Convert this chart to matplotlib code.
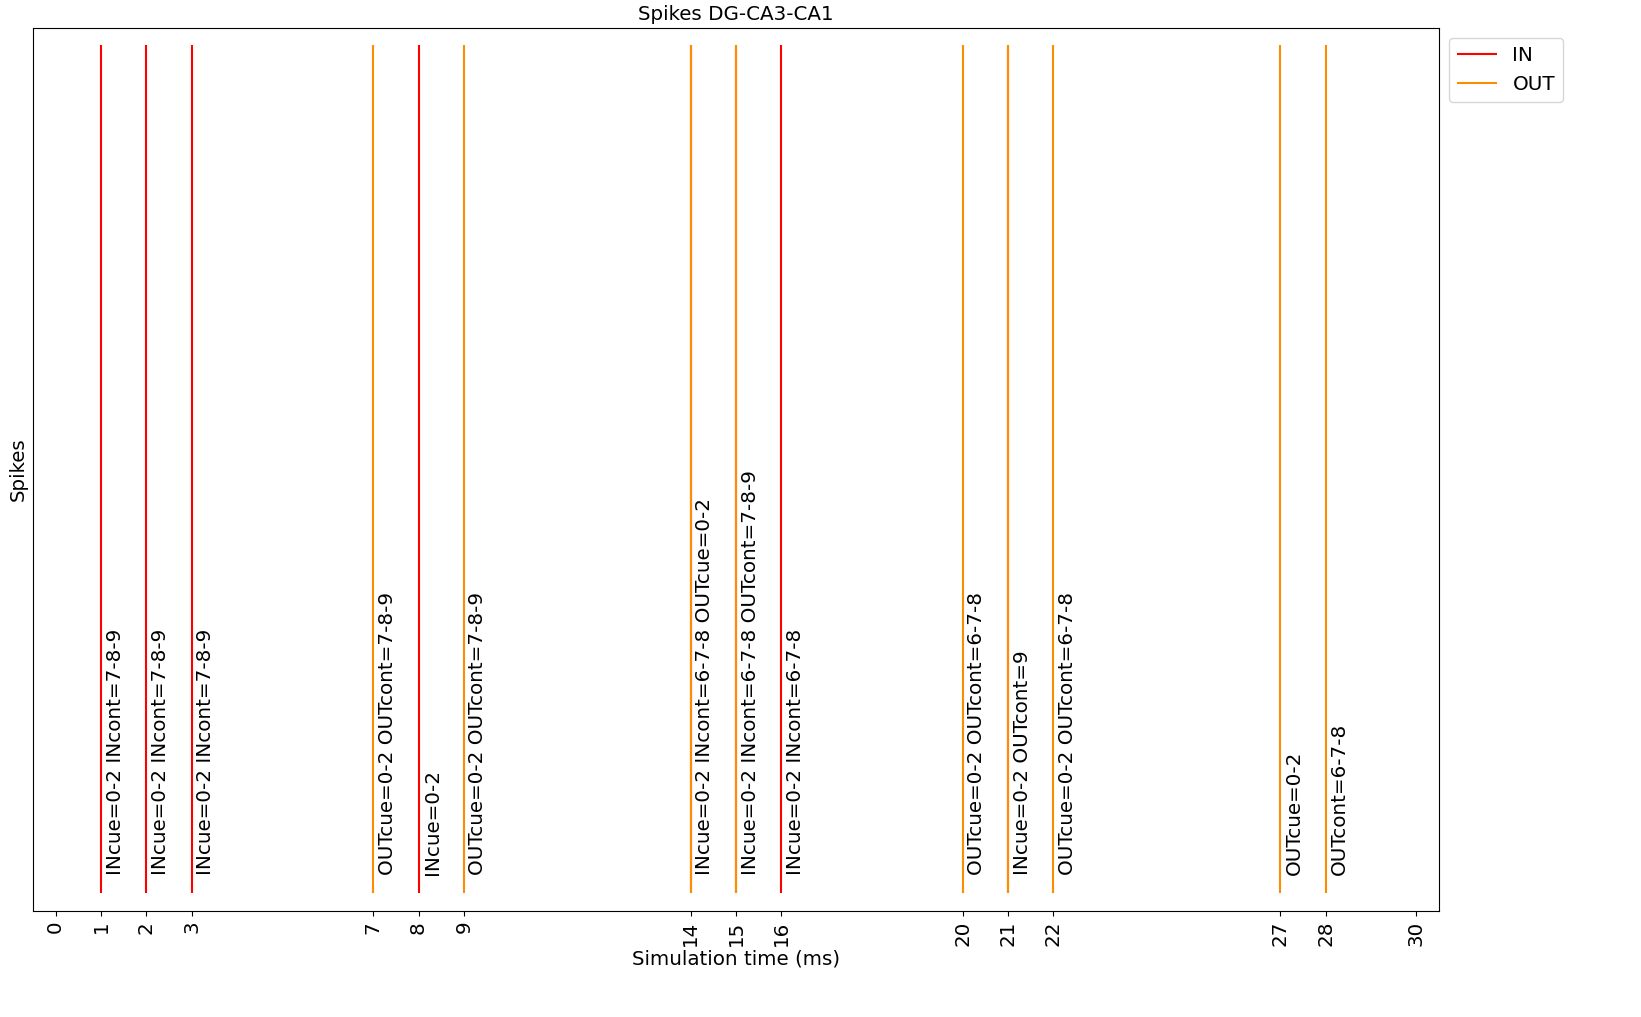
import matplotlib
matplotlib.use("Agg")
import matplotlib.pyplot as plt

# spike times (ms)
in_times = [1, 2, 3, 8, 14, 15, 16, 21]
out_times = [7, 9, 14, 15, 20, 21, 22, 27, 28]

# annotation per time step
label_times = [1, 2, 3, 7, 8, 9, 14, 15, 16, 20, 21, 22, 27, 28]
label_texts = [
    "INcue=0-2 INcont=7-8-9",
    "INcue=0-2 INcont=7-8-9",
    "INcue=0-2 INcont=7-8-9",
    "OUTcue=0-2 OUTcont=7-8-9",
    "INcue=0-2",
    "OUTcue=0-2 OUTcont=7-8-9",
    "INcue=0-2 INcont=6-7-8 OUTcue=0-2",
    "INcue=0-2 INcont=6-7-8 OUTcont=7-8-9",
    "INcue=0-2 INcont=6-7-8",
    "OUTcue=0-2 OUTcont=6-7-8",
    "INcue=0-2 OUTcont=9",
    "OUTcue=0-2 OUTcont=6-7-8",
    "OUTcue=0-2",
    "OUTcont=6-7-8",
]
tick_values = [0, 1, 2, 3, 7, 8, 9, 14, 15, 16, 20, 21, 22, 27, 28, 30]

fs = 14.3
plt.rcParams['font.size'] = fs

fig = plt.figure(figsize=(16.41, 10.17), dpi=100)
ax = fig.add_axes([0.0201, 0.1042, 0.8568, 0.8683])

ax.vlines(in_times, 0, 1, color='red', linewidth=1.5, label='IN')
ax.vlines(out_times, 0, 1, color='darkorange', linewidth=1.5, label='OUT')

for t, txt in zip(label_times, label_texts):
    ax.text(t + 0.1, 0.022, txt, rotation=90, ha='left', va='bottom', fontsize=fs)

ax.set_xlim(-0.5, 30.5)
ax.set_ylim(-0.021, 1.02)
ax.set_xticks(tick_values)
ax.set_xticklabels([str(v) for v in tick_values], rotation=90)
ax.set_yticks([])
ax.set_title('Spikes DG-CA3-CA1', fontsize=fs)
ax.set_xlabel('Simulation time (ms)', fontsize=fs, labelpad=2)
ax.set_ylabel('Spikes', fontsize=fs)
ax.legend(loc='upper left', bbox_to_anchor=(1.0, 1.0), fontsize=fs)

fig.savefig("out.png", dpi=100)
